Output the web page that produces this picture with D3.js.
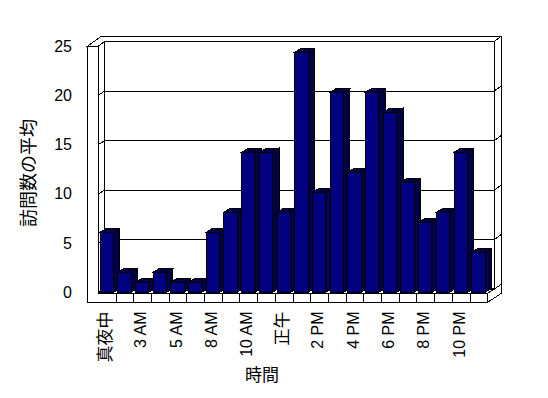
<!DOCTYPE html>
<html lang="ja">
<head>
<meta charset="UTF-8">
<title>時間別の訪問数</title>
<style>
  html, body { margin: 0; padding: 0; background: #fff; }
  svg text { font-family: "Liberation Sans", Arial, "Noto Sans CJK JP", sans-serif; fill: #000; }
</style>
</head>
<body>
<div id="chart"></div>
<script src="https://d3js.org/d3.v7.min.js"></script>
<script>
// data
const hours = ["真夜中", "1 AM", "3 AM", "4 AM", "5 AM", "6 AM", "8 AM", "9 AM", "10 AM", "11 AM", "正午",
               "1 PM", "2 PM", "3 PM", "4 PM", "5 PM", "6 PM", "7 PM", "8 PM", "9 PM", "10 PM", "11 PM"];
const visits = [6, 2, 1, 2, 1, 1, 6, 8, 14, 14, 8, 24, 10, 20, 12, 20, 18, 11, 7, 8, 14, 4];
const yTicks = [0, 5, 10, 15, 20, 25];
const yTitle = "訪問数の平均";
const xTitle = "時間";

const width = 548, height = 398;

// box layout (front face + oblique depth)
const wallLeft = 87.7, frontLeft = 98.3, frontRight = 487.7;
const floorTop = 293.3, floorBottom = 302.3;
const depth = [6.5, -4.5];    // front -> back wall face
const thick = [7.5, -5.5];    // back wall thickness
const barDepth = [6.5, -4];

const x = d3.scaleBand().domain(hours).range([frontLeft, frontRight]);
const yFront = d3.scaleLinear().domain([0, 25]).range([292.3, 46]);
const yWall = d3.scaleLinear().domain([0, 25]).range([289.3, 41.5]);
const yBar = d3.scaleLinear().domain([0, 25]).range([292.3, 42.3]);

const svg = d3.select("#chart").append("svg")
    .attr("width", width).attr("height", height)
    .attr("shape-rendering", "crispEdges");

// dithered shade for the side and top faces
const pat = svg.append("defs").append("pattern")
    .attr("id", "dither").attr("patternUnits", "userSpaceOnUse")
    .attr("width", 2).attr("height", 2);
pat.append("rect").attr("width", 2).attr("height", 2).attr("fill", "#000080");
pat.append("rect").attr("x", 1).attr("width", 1).attr("height", 1).attr("fill", "#000");
pat.append("rect").attr("y", 1).attr("width", 1).attr("height", 1).attr("fill", "#000");

const line = d3.line();
const backL = frontLeft + depth[0], backR = frontRight + depth[0];
const top0 = yWall(25), outerTop = top0 + thick[1];
const backBottom = floorTop + depth[1];
const frame = svg.append("g").attr("fill", "#fff").attr("stroke", "#000");

// back wall face
frame.append("path").attr("d", line([[backL, top0], [backR, top0], [backR, backBottom], [backL, backBottom]]) + "Z");
// top of walls
frame.append("path").attr("d", line([
  [wallLeft, yFront(25)], [frontLeft + depth[0] + thick[0] - (frontLeft - wallLeft), outerTop],
  [backR + thick[0], outerTop], [backR, top0], [backL, top0], [frontLeft, yFront(25)]
]) + "Z");
// right side of back wall and floor
frame.append("path").attr("d", line([
  [backR, top0], [backR + thick[0], outerTop], [backR + thick[0], floorBottom + depth[1] + thick[1] + 0.7],
  [frontRight, floorBottom], [frontRight, floorTop], [backR, backBottom]
]) + "Z");
// left wall inner face
frame.append("path").attr("d", line([[frontLeft, yFront(25)], [backL, top0], [backL, backBottom], [frontLeft, floorTop]]) + "Z");

// gridlines + wall ticks
const grid = svg.append("g").attr("fill", "none").attr("stroke", "#000");
yTicks.forEach(v => {
  grid.append("path").attr("d", line([
    [wallLeft, yFront(v)], [frontLeft, yFront(v)], [backL, yWall(v)],
    [backR, yWall(v)], [backR + thick[0], yWall(v) + thick[1]]
  ]));
});

// front L-shaped face of left wall and floor
svg.append("path")
    .attr("fill", "#fff").attr("stroke", "#000")
    .attr("d", line([
      [wallLeft, yFront(25)], [frontLeft, yFront(25)], [frontLeft, floorTop], [frontRight, floorTop],
      [frontRight, floorBottom], [wallLeft, floorBottom]
    ]) + "Z");
svg.append("g").attr("stroke", "#000")
  .selectAll("line").data(hours.slice(1)).join("line")
    .attr("x1", d => x(d)).attr("x2", d => x(d))
    .attr("y1", floorTop).attr("y2", floorBottom);

// bars
const barPad = 1.7, barW = 13.3;
const bars = svg.append("g").attr("stroke", "#000").attr("stroke-width", 1);
hours.forEach((h, i) => {
  const xl = x(h) + barPad, xr = xl + barW;
  const yt = yBar(visits[i]), yb = yBar(0);
  const [dx, dy] = barDepth;
  const g = bars.append("g");
  g.append("path").attr("fill", "url(#dither)")
    .attr("d", line([[xr, yt], [xr + dx, yt + dy], [xr + dx, yb + dy], [xr, yb]]) + "Z");
  g.append("path").attr("fill", "url(#dither)")
    .attr("d", line([[xl, yt], [xl + dx, yt + dy], [xr + dx, yt + dy], [xr, yt]]) + "Z");
  g.append("rect").attr("fill", "#000080")
    .attr("x", xl).attr("y", yt).attr("width", barW).attr("height", yb - yt);
});

// y tick labels
svg.append("g").attr("font-size", 16).attr("text-anchor", "end")
  .selectAll("text").data(yTicks).join("text")
    .attr("x", 72).attr("y", d => yFront(d)).attr("dy", "0.35em")
    .text(d => d);

// x tick labels, every other hour
const isCJK = s => /[^\x00-\x7f]/.test(s);
svg.append("g").attr("text-anchor", "end")
  .selectAll("text").data(hours.filter((d, i) => i % 2 === 0)).join("text")
    .attr("font-size", d => isCJK(d) ? 17 : 16)
    .attr("transform", d => `translate(${x(d) + x.bandwidth() / 2 - 2},311.5) rotate(-90)`)
    .attr("dy", "0.35em")
    .text(d => d);

// axis titles
svg.append("text")
    .attr("font-size", 17).attr("text-anchor", "middle")
    .attr("x", 262).attr("y", 375).attr("dy", "0.35em")
    .text(xTitle);
svg.append("text")
    .attr("font-size", 18).attr("text-anchor", "middle")
    .attr("transform", "translate(28.5,173) rotate(-90)").attr("dy", "0.35em")
    .text(yTitle);
</script>
</body>
</html>
